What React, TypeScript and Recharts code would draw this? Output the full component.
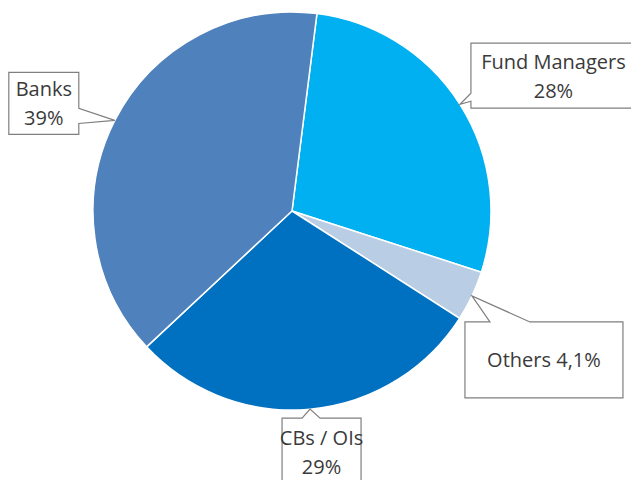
import { Pie, PieChart, Cell } from "recharts";

// Slices run clockwise from just right of 12 o'clock.
const segments = ["Fund Managers", "Others", "CBs / OIs", "Banks"];
const shares = [28, 4.1, 29, 39];
const colors = ["#00b0f0", "#b9cde5", "#0070c0", "#4f81bd"];

const data = segments.map((name, i) => ({ name, value: shares[i] }));

const RAD = Math.PI / 180;
const FONT = "'Open Sans', 'Liberation Sans', sans-serif";

// Callout boxes, placed relative to the tip on the slice edge.
// side = which edge of the box carries the pointer, a/b = pointer base along that edge.
const callouts = [
  { dx: 11, dy: -61, w: 165, h: 65, side: "left", a: -11, b: -3, inline: false },
  { dx: -7, dy: 26, w: 158, h: 76, side: "top", a: 18, b: 58, inline: true },
  { dx: -28, dy: 9, w: 79, h: 67, side: "top", a: -8, b: 10, inline: false },
  { dx: -106, dy: -48, w: 70, h: 62, side: "right", a: -12, b: 3, inline: false },
];

function fmt(v: number) {
  return `${String(v).replace(".", ",")}%`;
}

function Callout(props: any) {
  const { cx, cy, midAngle, outerRadius, index, name, value } = props;
  const c = callouts[index];
  const tx = cx + outerRadius * Math.cos(-midAngle * RAD);
  const ty = cy + outerRadius * Math.sin(-midAngle * RAD);
  const x0 = tx + c.dx;
  const y0 = ty + c.dy;
  const x1 = x0 + c.w;
  const y1 = y0 + c.h;

  let d = "";
  if (c.side === "top") {
    d = `M${x0},${y0} L${tx + c.a},${y0} L${tx},${ty} L${tx + c.b},${y0} L${x1},${y0} L${x1},${y1} L${x0},${y1} Z`;
  } else if (c.side === "left") {
    d = `M${x0},${y0} L${x1},${y0} L${x1},${y1} L${x0},${y1} L${x0},${ty + c.b} L${tx},${ty} L${x0},${ty + c.a} Z`;
  } else {
    d = `M${x0},${y0} L${x1},${y0} L${x1},${ty + c.a} L${tx},${ty} L${x1},${ty + c.b} L${x1},${y1} L${x0},${y1} Z`;
  }

  const mx = x0 + c.w / 2;
  const my = y0 + c.h / 2;
  return (
    <g>
      <path d={d} fill="#ffffff" stroke="#7f7f7f" strokeWidth={1.2} />
      {c.inline ? (
        <text x={mx} y={my} textAnchor="middle" dominantBaseline="central" fill="#3a3a3a" fontSize={20} fontFamily={FONT}>
          {`${name} ${fmt(value)}`}
        </text>
      ) : (
        <text textAnchor="middle" fill="#3a3a3a" fontSize={20} fontFamily={FONT}>
          <tspan x={mx} y={my - 14.5} dominantBaseline="central">{name}</tspan>
          <tspan x={mx} y={my + 14.5} dominantBaseline="central">{fmt(value)}</tspan>
        </text>
      )}
    </g>
  );
}

export default function App() {
  return (
    <div style={{ position: "absolute", left: 0, top: 0, width: 631, height: 480, background: "#fff" }}>
      <PieChart width={631} height={480} margin={{ top: 0, right: 0, bottom: 0, left: 0 }}>
        <Pie
          data={data}
          dataKey="value"
          nameKey="name"
          cx={292}
          cy={211}
          outerRadius={199}
          startAngle={82.8}
          endAngle={-277.2}
          stroke="#ffffff"
          strokeWidth={1.5}
          label={Callout}
          labelLine={false}
          isAnimationActive={false}
        >
          {data.map((d, i) => (
            <Cell key={d.name} fill={colors[i]} />
          ))}
        </Pie>
      </PieChart>
    </div>
  );
}
